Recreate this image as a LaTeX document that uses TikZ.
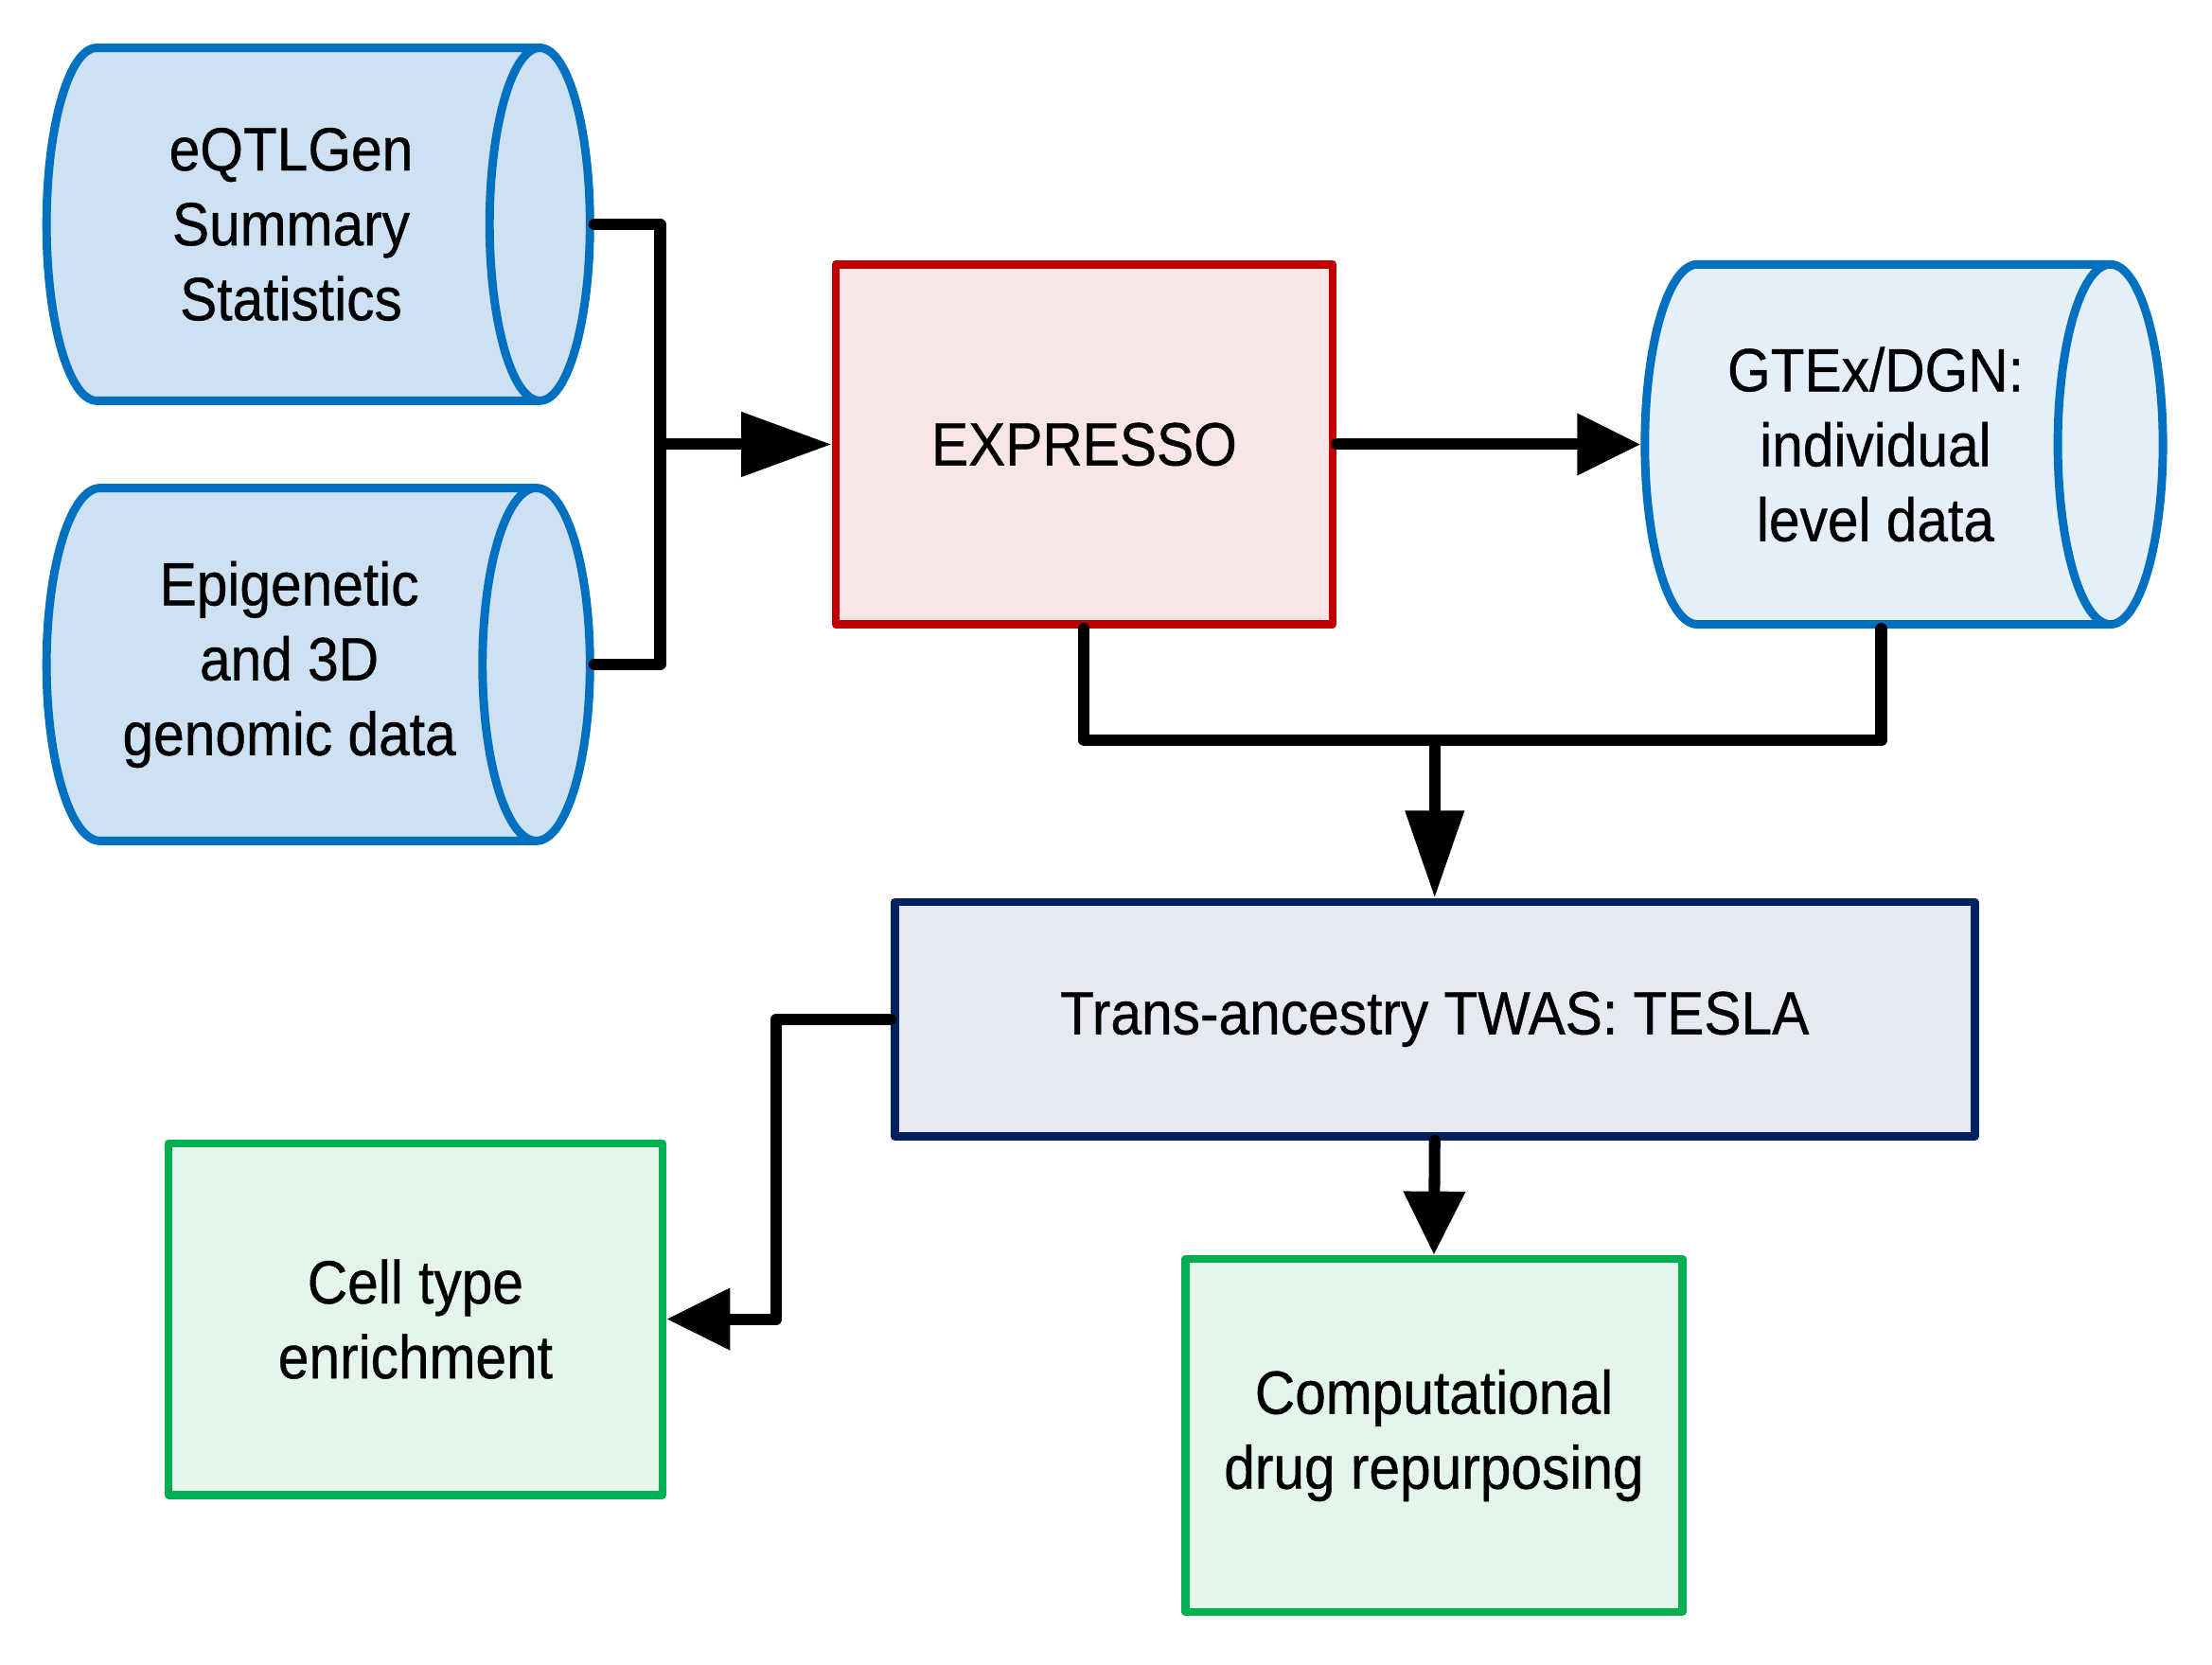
\documentclass[tikz,border=0pt]{standalone}
\usepackage{fontspec}
\setmainfont{Liberation Sans}[FakeStretch=0.91,FakeBold=0.6]
\usepackage{tikz}
\usetikzlibrary{arrows.meta,shapes.geometric}
\definecolor{StoreBlue}{RGB}{0,112,192}
\definecolor{StoreFill}{RGB}{205,225,242}
\definecolor{StoreFillLight}{RGB}{229,239,249}
\definecolor{ModelRed}{RGB}{192,0,0}
\definecolor{ModelFill}{RGB}{248,230,230}
\definecolor{TwasNavy}{RGB}{0,32,96}
\definecolor{TwasFill}{RGB}{230,233,241}
\definecolor{OutGreen}{RGB}{0,176,80}
\definecolor{OutFill}{RGB}{228,245,236}

\tikzset{
  boxtext/.style={align=center,font=\fontsize{12.3}{15.1}\selectfont},
  datastore/.style={cylinder,boxtext,draw=StoreBlue,fill=StoreFill,line width=1.7pt,line join=round,
    aspect=0.52,minimum height=3.85cm,minimum width=2.5cm,inner sep=0pt,anchor=west},
  modelbox/.style={rectangle,boxtext,line width=1.65pt,line join=round,minimum width=3.52cm,minimum height=2.5cm},
  flow/.style={line width=2.3pt,line cap=round,line join=round},
  flowarrow/.style={flow,-{Triangle[length=0.45cm,width=0.42cm]}}
}

\begin{document}
\begin{tikzpicture}[x=0.01cm,y=-0.01cm]
  \useasboundingbox (0,0) rectangle (1568,1180);

  % data sources
  \node[datastore] (eqtl) at (30,159) {eQTLGen\\Summary\\Statistics};
  \node[datastore] (epi) at (30,471) {Epigenetic\\and 3D\\genomic data};
  \node[datastore,fill=StoreFillLight,aspect=0.54,minimum height=3.67cm,minimum width=2.55cm] (gtex) at (1163,315)
    {GTEx/DGN:\\individual\\level data};

  % methods
  \node[modelbox,draw=ModelRed,fill=ModelFill,minimum height=2.55cm] (expresso) at (768.5,315) {EXPRESSO};
  \node[modelbox,draw=TwasNavy,fill=TwasFill,minimum width=7.65cm,minimum height=1.66cm] (twas) at (1017,722.5)
    {Trans-ancestry TWAS: TESLA};

  % downstream analyses
  \node[modelbox,draw=OutGreen,fill=OutFill,minimum width=3.5cm,minimum height=2.49cm] (cell) at (294.5,935)
    {Cell type\\enrichment};
  \node[modelbox,draw=OutGreen,fill=OutFill] (drug) at (1016.5,1017.5)
    {Computational\\drug repurposing};

  % connectors
  \coordinate (join) at (468,315);
  \coordinate (merge) at (1017,525);
  \draw[flow] (eqtl.east) -| (join);
  \draw[flow] (epi.east) -| (join);
  \draw[flowarrow,-{Triangle[length=0.64cm,width=0.44cm]}] (join) -- (expresso.west);
  \draw[flowarrow] (expresso.east) -- (gtex.west);
  \draw[flow] (expresso.south) |- (merge);
  \draw[flow] ([xshift=0.04cm]gtex.south) |- (merge);
  \draw[flowarrow,-{Triangle[length=0.62cm,width=0.4cm]}] (merge) -- (twas.north);
  \draw[flowarrow] (twas.west) -- ++(-81,0) |- (cell.east);
  \draw[flowarrow] (twas.south) -- (drug.north);
\end{tikzpicture}
\end{document}
